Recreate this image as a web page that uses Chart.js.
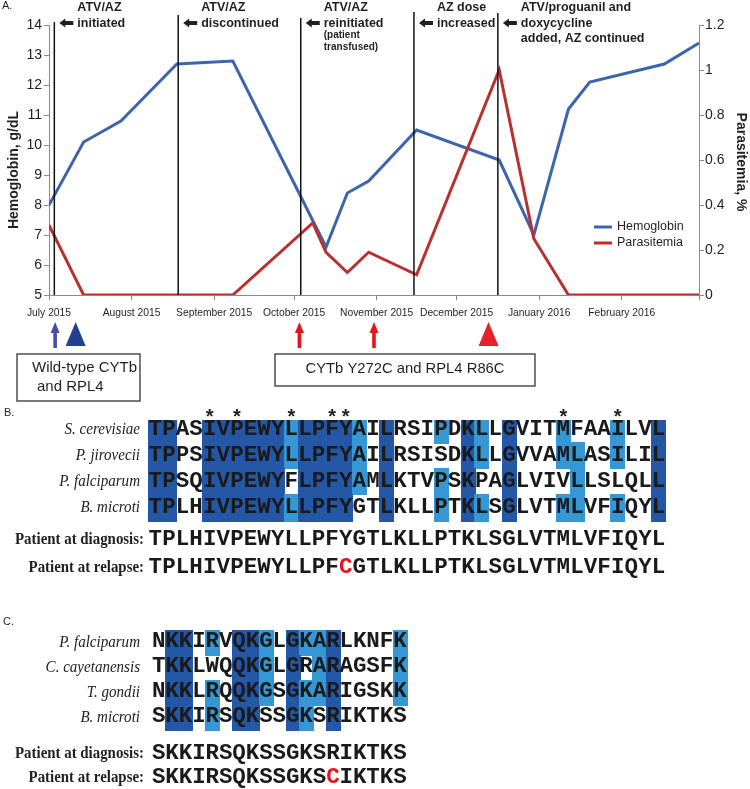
<!DOCTYPE html>
<html>
<head>
<meta charset="utf-8">
<script src="https://cdn.jsdelivr.net/npm/chart.js@4.4.0/dist/chart.umd.min.js"></script>
<style>
  body { margin: 0; background: #fff; }
  #wrap { position: relative; width: 750px; height: 789px; }
  canvas { position: absolute; left: 0; }
</style>
</head>
<body>
<div id="wrap">
  <canvas id="chartA" width="750" height="410" style="top:0"></canvas>
  <canvas id="chartB" width="750" height="200" style="top:400px"></canvas>
  <canvas id="chartC" width="750" height="185" style="top:604px"></canvas>
</div>
<script>
// ==================== DATA ====================
// x values are days since July 1, 2015
const monthTickDays = [0, 31, 62, 92, 123, 153, 184, 215, 244];
const monthLabels = ['July 2015', 'August 2015', 'September 2015', 'October 2015', 'November 2015', 'December 2015', 'January 2016', 'February 2016', ''];

const hgbDays   = [0, 13, 27, 48, 69, 104, 112, 120, 138, 169, 182, 195, 203, 231, 244];
const hgbValues = [8.0, 10.1, 10.8, 12.7, 12.8, 6.6, 8.4, 8.8, 10.5, 9.5, 7.0, 11.2, 12.1, 12.7, 13.4];

const parDays   = [0, 13, 69, 99, 104, 112, 120, 138, 169, 182, 195, 244];
const parValues = [0.31, 0, 0, 0.32, 0.19, 0.1, 0.19, 0.09, 1.0, 0.25, 0, 0];

const eventDays = [2, 48.5, 94.5, 137, 168.5];
const eventLabels = [
    ['ATV/AZ', 'initiated'],
    ['ATV/AZ', 'discontinued'],
    ['ATV/AZ', 'reinitiated'],
    ['AZ dose', 'increased'],
    ['ATV/proguanil and', 'doxycycline', 'added, AZ continued']
];
const eventNotes = [[], [], ['(patient', 'transfused)'], [], []];

const sampleDays  = [2.3, 10, 94, 122, 165];
const sampleKinds = ['arrow', 'triangle', 'arrow', 'arrow', 'triangle'];
const sampleGroup = ['wt', 'wt', 'mut', 'mut', 'mut'];
const genotypeLabels = { wt: ['Wild-type CYTb', 'and RPL4'], mut: ['CYTb Y272C and RPL4 R86C'] };

const cytbSpecies = ['S. cerevisiae', 'P. jirovecii', 'P. falciparum', 'B. microti'];
const cytbSeqs = [
    'TPASIVPEWYLLPFYAILRSIPDKLLGVITMFAAILVL',
    'TPPSIVPEWYLLPFYAILRSISDKLLGVVAMLASILIL',
    'TPSQIVPEWYFLPFYAMLKTVPSKPAGLVIVLLSLQLL',
    'TPLHIVPEWYLLPFYGTLKLLPTKLSGLVTMLVFIQYL'
];
// D = identical in all, L = similar/majority, . = none
const cytbShade = [
    'DD..DDDDDDLDDDDL.D...L.DL.D...L...L..D',
    'DD..DDDDDDLDDDDL.D.....DL.D...LL..L..D',
    'DD..DDDDDD.DDDDL.D...L.D..D....L.....D',
    'DD..DDDDDDLDDDD..D...L.DL.D...LL..L..D'
];
const cytbStars = [4, 6, 10, 13, 14, 30, 34];
const cytbDiagnosis = 'TPLHIVPEWYLLPFYGTLKLLPTKLSGLVTMLVFIQYL';
const cytbRelapse   = 'TPLHIVPEWYLLPFCGTLKLLPTKLSGLVTMLVFIQYL';

const rpl4Species = ['P. falciparum', 'C. cayetanensis', 'T. gondii', 'B. microti'];
const rpl4Seqs = [
    'NKKIRVQKGLGKARLKNFK',
    'TKKLWQQKGLGRARAGSFK',
    'NKKLRQQKGSGKARIGSKK',
    'SKKIRSQKSSGKSRIKTKS'
];
const rpl4Shade = [
    '.DD.L.DDL.DLLD....L',
    '.DD...DDL.D.LD....L',
    '.DD.L.DDL.DLLD....L',
    '.DD.L.DD..DL.D.....'
];
const rpl4Diagnosis = 'SKKIRSQKSSGKSRIKTKS';
const rpl4Relapse   = 'SKKIRSQKSSGKSCIKTKS';

// ==================== STYLE ====================
const SANS = '"Liberation Sans", Arial, Helvetica, sans-serif';
const SERIF = '"Liberation Serif", "Times New Roman", serif';
const MONO = '"Liberation Mono", "Courier New", monospace';
const hgbColor = '#3d64ad';
const parColor = '#b8302f';
const axisGrey = '#8a8a8a';
const textColor = '#231f20';
const darkBlue = '#2457a5';
const lightBlue = '#3598d4';

// ==================== CHART A ====================
function leftArrow(ctx, tip, y) {
    ctx.beginPath();
    ctx.moveTo(tip, y);
    ctx.lineTo(tip + 6, y - 4.5);
    ctx.lineTo(tip + 6, y - 2);
    ctx.lineTo(tip + 14, y - 2);
    ctx.lineTo(tip + 14, y + 2);
    ctx.lineTo(tip + 6, y + 2);
    ctx.lineTo(tip + 6, y + 4.5);
    ctx.closePath();
    ctx.fill();
}

function upArrow(ctx, cx, top, bottom) {
    ctx.beginPath();
    ctx.moveTo(cx, top);
    ctx.lineTo(cx + 4.5, top + 11);
    ctx.lineTo(cx + 1.8, top + 11);
    ctx.lineTo(cx + 1.8, bottom);
    ctx.lineTo(cx - 1.8, bottom);
    ctx.lineTo(cx - 1.8, top + 11);
    ctx.lineTo(cx - 4.5, top + 11);
    ctx.closePath();
    ctx.fill();
}

const eventLineTops = [22, 15, 18, 12, 13];

const timelinePlugin = {
    id: 'timeline',
    afterDatasetsDraw(chart) {
        const { ctx, chartArea, scales: { x } } = chart;
        ctx.save();
        ctx.strokeStyle = '#111';
        ctx.lineWidth = 1.5;
        eventDays.forEach((d, i) => {
            const px = x.getPixelForValue(d);
            ctx.beginPath();
            ctx.moveTo(px, eventLineTops[i]);
            ctx.lineTo(px, chartArea.bottom);
            ctx.stroke();
        });
        ctx.restore();
    },
    afterDraw(chart) {
        const { ctx, scales: { x } } = chart;
        ctx.save();
        ctx.fillStyle = textColor;
        ctx.textBaseline = 'middle';

        // panel letter
        ctx.font = '11px ' + SANS;
        ctx.fillText('A.', 2, 6);

        // event annotations
        eventDays.forEach((d, i) => {
            const px = x.getPixelForValue(d);
            ctx.fillStyle = '#231f20';
            leftArrow(ctx, px + 5, 23);
            ctx.font = 'bold 12.5px ' + SANS;
            ctx.textAlign = 'left';
            eventLabels[i].forEach((t, j) => ctx.fillText(t, px + 23, 8 + j * 15.5));
            ctx.font = 'bold 10px ' + SANS;
            eventNotes[i].forEach((t, j) => ctx.fillText(t, px + 23, 35 + j * 12));
        });

        // axis titles
        ctx.font = 'bold 14px ' + SANS;
        ctx.textAlign = 'center';
        ctx.save();
        ctx.translate(14, 170);
        ctx.rotate(-Math.PI / 2);
        ctx.fillText('Hemoglobin, g/dL', 0, 0);
        ctx.restore();
        ctx.save();
        ctx.translate(741, 162);
        ctx.rotate(Math.PI / 2);
        ctx.fillText('Parasitemia, %', 0, 0);
        ctx.restore();

        // legend
        ctx.font = '12.5px ' + SANS;
        ctx.textAlign = 'left';
        chart.data.datasets.forEach((ds, i) => {
            const ly = 227 + i * 16;
            ctx.strokeStyle = ds.borderColor;
            ctx.lineWidth = 3;
            ctx.beginPath();
            ctx.moveTo(594, ly);
            ctx.lineTo(612, ly);
            ctx.stroke();
            ctx.fillStyle = textColor;
            ctx.fillText(ds.label, 617, ly);
        });

        // sample markers below axis
        sampleDays.forEach((d, i) => {
            const px = x.getPixelForValue(d);
            if (sampleKinds[i] === 'arrow') {
                ctx.fillStyle = sampleGroup[i] === 'wt' ? '#4b4ca8' : '#e8141c';
                upArrow(ctx, px, 322, 348);
            } else {
                ctx.fillStyle = sampleGroup[i] === 'wt' ? '#233f8f' : '#e8202a';
                ctx.beginPath();
                ctx.moveTo(px, 322);
                ctx.lineTo(px + 10, 346);
                ctx.lineTo(px - 10, 346);
                ctx.closePath();
                ctx.fill();
            }
        });

        // genotype boxes
        ctx.strokeStyle = '#333';
        ctx.lineWidth = 1.3;
        ctx.fillStyle = textColor;
        ctx.strokeRect(17, 354, 123, 47);
        ctx.font = '15px ' + SANS;
        ctx.textAlign = 'left';
        ctx.fillText(genotypeLabels.wt[0], 32, 368);
        ctx.fillText(genotypeLabels.wt[1], 37, 387);
        ctx.strokeRect(275, 354, 260, 32);
        ctx.font = '14.8px ' + SANS;
        ctx.textAlign = 'center';
        ctx.fillText(genotypeLabels.mut[0], 405, 369);
        ctx.restore();
    }
};

new Chart(document.getElementById('chartA'), {
    type: 'line',
    data: {
        datasets: [
            { label: 'Hemoglobin', data: hgbDays.map((d, i) => ({ x: d, y: hgbValues[i] })), borderColor: hgbColor, borderWidth: 3, pointRadius: 0, yAxisID: 'y', order: 1 },
            { label: 'Parasitemia', data: parDays.map((d, i) => ({ x: d, y: parValues[i] })), borderColor: parColor, borderWidth: 3, pointRadius: 0, yAxisID: 'y1', order: 0 }
        ]
    },
    options: {
        responsive: false,
        animation: false,
        layout: { padding: { top: 25, left: 0, right: 0, bottom: 0 } },
        plugins: { legend: { display: false }, tooltip: { enabled: false } },
        scales: {
            x: {
                type: 'linear', min: 0, max: 244,
                afterBuildTicks: s => { s.ticks = monthTickDays.map(v => ({ value: v })); },
                afterFit: s => { s.height = 115; },
                ticks: { autoSkip: false, maxRotation: 0, color: textColor, font: { size: 10.3, family: SANS }, padding: 7, callback: (v, i) => monthLabels[i] },
                grid: { drawOnChartArea: false, tickLength: 5, color: axisGrey },
                border: { color: axisGrey, width: 1 }
            },
            y: {
                position: 'left', min: 5, max: 14,
                afterFit: s => { s.width = 49; },
                ticks: { stepSize: 1, color: textColor, font: { size: 14, family: SANS }, padding: 2 },
                grid: { drawOnChartArea: false, tickLength: 5, color: axisGrey },
                border: { color: axisGrey, width: 1 }
            },
            y1: {
                position: 'right', min: 0, max: 1.2,
                afterFit: s => { s.width = 51; },
                ticks: { stepSize: 0.2, color: textColor, font: { size: 14, family: SANS }, padding: 1, callback: v => String(+v.toFixed(1)) },
                grid: { drawOnChartArea: false, tickLength: 5, color: axisGrey },
                border: { color: axisGrey, width: 1 }
            }
        }
    },
    plugins: [timelinePlugin]
});

// ==================== ALIGNMENTS ====================
function fitText(ctx, text, xRight, y, scaleX) {
    ctx.save();
    ctx.translate(xRight, y);
    ctx.scale(scaleX, 1);
    ctx.textAlign = 'right';
    ctx.fillText(text, 0, 0);
    ctx.restore();
}

function alignmentPlugin(panel) {
    return {
        id: 'alignment',
        afterDraw(chart) {
            const { ctx, scales: { x, y } } = chart;
            const rowPos = panel.rowPos;
            const half = panel.cellHalf;
            ctx.save();
            ctx.textBaseline = 'middle';

            ctx.fillStyle = textColor;
            ctx.font = '11px ' + SANS;
            ctx.fillText(panel.letter, panel.letterX, panel.letterY);

            // shaded cells
            const cellTop = y.getPixelForValue(rowPos[0] - panel.topHalf);
            panel.shade.forEach((row, r) => {
                [...row].forEach((s, c) => {
                    if (s === '.') return;
                    const x0 = x.getPixelForValue(c - 0.5);
                    const x1 = x.getPixelForValue(c + 0.5);
                    const y0 = r === 0 ? cellTop : y.getPixelForValue(rowPos[r] - half);
                    const y1 = y.getPixelForValue(rowPos[r] + half);
                    ctx.fillStyle = s === 'D' ? darkBlue : lightBlue;
                    ctx.fillRect(Math.floor(x0), Math.floor(y0), Math.ceil(x1 - x0) + 1, Math.ceil(y1 - y0) + 1);
                });
            });

            // conservation stars, centred a few pixels above the cells
            if (panel.stars) {
                ctx.font = 'bold 20px ' + SANS;
                ctx.textAlign = 'center';
                ctx.textBaseline = 'alphabetic';
                ctx.fillStyle = textColor;
                const m = ctx.measureText('*');
                const glyphMid = (m.actualBoundingBoxAscent - m.actualBoundingBoxDescent) / 2;
                const starY = cellTop - 7 + glyphMid;
                panel.stars.forEach(c => ctx.fillText('*', x.getPixelForValue(c), starY));
                ctx.textBaseline = 'middle';
            }

            // sequences
            const seqs = panel.seqs.concat([panel.diagnosis, panel.relapse]);
            ctx.font = 'bold 22.5px ' + MONO;
            ctx.textAlign = 'center';
            seqs.forEach((seq, r) => {
                const py = y.getPixelForValue(rowPos[r]) - 1;
                [...seq].forEach((ch, c) => {
                    const mutated = r === seqs.length - 1 && ch !== panel.diagnosis[c];
                    ctx.fillStyle = mutated ? '#e3131b' : '#1a1a1a';
                    ctx.fillText(ch, x.getPixelForValue(c), py);
                });
            });

            // row labels
            ctx.fillStyle = '#222';
            ctx.font = 'italic 16px ' + SERIF;
            panel.species.forEach((name, r) => fitText(ctx, name, 140, y.getPixelForValue(rowPos[r]), 0.94));
            ctx.font = 'bold 16px ' + SERIF;
            fitText(ctx, 'Patient at diagnosis:', 144, y.getPixelForValue(rowPos[4]), 0.93);
            fitText(ctx, 'Patient at relapse:', 144, y.getPixelForValue(rowPos[5]), 0.93);
            ctx.restore();
        }
    };
}

function alignmentChart(id, panel, xLeft, colW, yMin, unit, height) {
    const n = panel.seqs[0].length;
    return new Chart(document.getElementById(id), {
        type: 'scatter',
        data: { datasets: [] },
        options: {
            responsive: false,
            animation: false,
            layout: { padding: { left: xLeft, right: 750 - xLeft - n * colW, top: 0, bottom: 0 } },
            plugins: { legend: { display: false }, tooltip: { enabled: false } },
            scales: {
                x: { type: 'linear', display: false, min: -0.5, max: n - 0.5 },
                y: { type: 'linear', display: false, reverse: true, min: yMin, max: yMin + height / unit }
            }
        },
        plugins: [alignmentPlugin(panel)]
    });
}

alignmentChart('chartB', {
    letter: 'B.', letterX: 4, letterY: 13,
    species: cytbSpecies, seqs: cytbSeqs, shade: cytbShade, stars: cytbStars,
    diagnosis: cytbDiagnosis, relapse: cytbRelapse,
    rowPos: [0, 1, 2, 3, 4.23, 5.31], cellHalf: 0.5, topHalf: 0.38
}, 148.5, 13.6, -1.15, 26, 200);

alignmentChart('chartC', {
    letter: 'C.', letterX: 3, letterY: 18,
    species: rpl4Species, seqs: rpl4Seqs, shade: rpl4Shade, stars: null,
    diagnosis: rpl4Diagnosis, relapse: rpl4Relapse,
    rowPos: [0, 1, 2, 3, 4.46, 5.42], cellHalf: 0.5, topHalf: 0.5
}, 152, 13.4, -1.54, 25, 185);
</script>
</body>
</html>
